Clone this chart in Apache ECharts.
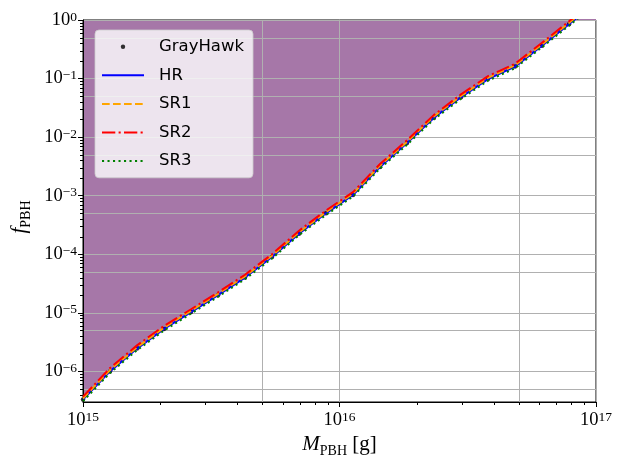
<!DOCTYPE html>
<html>
<head>
<meta charset="utf-8">
<script src="https://cdn.jsdelivr.net/npm/echarts@6/dist/echarts.min.js"></script>
<style>
  html, body { margin: 0; padding: 0; background: #ffffff; }
  #chart { width: 625px; height: 456px; }
</style>
</head>
<body>
<div id="chart"></div>
<script>
// PBH mass grid [g], 20 log-spaced points between 1e15 and 1e17
const masses = [
  1.0000e15, 1.2743e15, 1.6238e15, 2.0691e15, 2.6367e15,
  3.3598e15, 4.2813e15, 5.4556e15, 6.9519e15, 8.8587e15,
  1.1288e16, 1.4384e16, 1.8330e16, 2.3357e16, 2.9764e16,
  3.7927e16, 4.8329e16, 6.1585e16, 7.8476e16, 1.0000e17
];

// Upper limits on f_PBH for each evaporation model
const grayHawk = [
  3.3e-7, 1.0e-6, 2.45e-6, 5.3e-6, 1.03e-5,
  2.0e-5, 4.0e-5, 9.0e-5, 2.25e-4, 5.0e-4,
  1.03e-3, 3.1e-3, 7.9e-3, 2.15e-2, 4.8e-2,
  9.8e-2, 1.6e-1, 3.65e-1, 8.5e-1, 2.0
];
const hr = [
  3.3e-7, 1.0e-6, 2.45e-6, 5.3e-6, 1.03e-5,
  2.0e-5, 4.0e-5, 9.0e-5, 2.25e-4, 5.0e-4,
  1.03e-3, 3.1e-3, 7.9e-3, 2.15e-2, 4.8e-2,
  9.8e-2, 1.6e-1, 3.65e-1, 8.5e-1, 2.0
];
const sr1 = [
  3.45e-7, 1.05e-6, 2.57e-6, 5.56e-6, 1.08e-5,
  2.1e-5, 4.2e-5, 9.45e-5, 2.36e-4, 5.25e-4,
  1.08e-3, 3.26e-3, 8.3e-3, 2.26e-2, 5.04e-2,
  1.03e-1, 1.68e-1, 3.83e-1, 8.9e-1, 2.1
];
const sr2 = [
  3.7e-7, 1.14e-6, 2.78e-6, 5.98e-6, 1.15e-5,
  2.24e-5, 4.47e-5, 1.0e-4, 2.52e-4, 5.6e-4,
  1.15e-3, 3.47e-3, 8.85e-3, 2.4e-2, 5.37e-2,
  1.1e-1, 1.79e-1, 4.08e-1, 9.5e-1, 2.24
];
const sr3 = [
  3.1e-7, 0.94e-6, 2.3e-6, 4.98e-6, 9.7e-6,
  1.88e-5, 3.76e-5, 8.46e-5, 2.12e-4, 4.7e-4,
  9.7e-4, 2.91e-3, 7.43e-3, 2.02e-2, 4.51e-2,
  9.2e-2, 1.5e-1, 3.43e-1, 8.0e-1, 1.88
];

// Axis ranges and guide positions
const X_MIN = 1e15, X_MAX = 1e17;
const Y_MIN = 3e-7, Y_MAX = 1;
const xDecades = [1e15, 1e16];
const yDecades = [1e-7, 1e-6, 1e-5, 1e-4, 1e-3, 1e-2, 1e-1];
const minorMultipliers = [2, 3, 4, 5, 6, 7, 8, 9];
const xExtraGrid = [5e15, 5e16];
const yExtraGrid = [5e-7, 5e-6, 5e-5, 5e-4, 5e-3, 5e-2, 5e-1];

const SERIF = '"Liberation Serif", "DejaVu Serif", serif';
const SANS = '"DejaVu Sans", sans-serif';
const FILL = '#a677a8';
const GRID = '#b0b0b0';

const pairs = (ys) => masses.map((m, i) => [m, ys[i]]);

// guide items: [x, y, kind]; kind 0 = x minor tick, 1 = y minor tick,
// 2 = extra vertical grid line, 3 = extra horizontal grid line
const guides = [];
xDecades.forEach(d => minorMultipliers.forEach(m => guides.push([m * d, Y_MIN, 0])));
yDecades.forEach(d => minorMultipliers.forEach(m => {
  const v = m * d;
  if (v > Y_MIN * 1.0001 && v < Y_MAX) guides.push([X_MIN, v, 1]);
}));
xExtraGrid.forEach(v => guides.push([v, Y_MIN, 2]));
yExtraGrid.forEach(v => guides.push([X_MIN, v, 3]));

// "10^n" labels only at whole decades
const powLabel = (v) => {
  const lg = Math.log10(v);
  const e = Math.round(lg);
  if (Math.abs(lg - e) > 0.01) return '';
  const txt = e < 0 ? '\u2212' + Math.abs(e) : String(e);
  return '{b|10}{e|' + txt + '}';
};
const powRich = {
  b: { fontFamily: SERIF, fontSize: 18.5, lineHeight: 20, color: '#000' },
  e: { fontFamily: SERIF, fontSize: 13.5, lineHeight: 10, verticalAlign: 'top', color: '#000' }
};

const chart = echarts.init(document.getElementById('chart'), null, { renderer: 'canvas' });

const hiddenMarker = { opacity: 0 };

chart.setOption({
  animation: false,
  backgroundColor: '#ffffff',
  grid: {
    left: 83, top: 20, width: 513, height: 382,
    containLabel: false,
    outerBoundsMode: 'none',
    show: true, borderColor: '#000', borderWidth: 1, backgroundColor: 'transparent'
  },
  legend: {
    orient: 'vertical',
    left: 95, top: 30,
    z: 10,
    padding: [6.7, 9, 6.7, 6],
    itemGap: 8.6,
    itemWidth: 42,
    itemHeight: 12,
    backgroundColor: 'rgba(255,255,255,0.8)',
    borderColor: 'rgba(204,204,204,0.8)',
    borderWidth: 1,
    borderRadius: 4,
    textStyle: { fontFamily: SANS, fontSize: 16.5, color: '#000', lineHeight: 20, padding: [0, 0, 0, 10] },
    data: [
      { name: 'GrayHawk', icon: 'path://M0,0 M42,12 M18.8,6 A2.2,2.2 0 1,0 23.2,6 A2.2,2.2 0 1,0 18.8,6 Z' },
      { name: 'HR', itemStyle: hiddenMarker },
      { name: 'SR1', itemStyle: hiddenMarker },
      { name: 'SR2', itemStyle: hiddenMarker },
      { name: 'SR3', itemStyle: hiddenMarker }
    ]
  },
  xAxis: {
    type: 'log', logBase: 10, min: X_MIN, max: X_MAX, z: 2,
    name: '{m|M}{s|PBH}{g| [g]}',
    nameLocation: 'middle', nameGap: 27,
    nameTextStyle: {
      rich: {
        m: { fontFamily: SERIF, fontStyle: 'italic', fontSize: 21, lineHeight: 24, verticalAlign: 'top', color: '#000' },
        s: { fontFamily: SERIF, fontSize: 14, lineHeight: 16, verticalAlign: 'bottom', color: '#000' },
        g: { fontFamily: SERIF, fontSize: 21, lineHeight: 24, verticalAlign: 'top', color: '#000' }
      }
    },
    axisLine: { show: true, lineStyle: { color: '#000', width: 1 } },
    axisTick: { show: true, inside: false, length: 5, lineStyle: { color: '#000', width: 1 } },
    axisLabel: { formatter: powLabel, rich: powRich, margin: 8 },
    splitLine: { show: true, lineStyle: { color: GRID, width: 1 } },
    minorTick: { show: false }
  },
  yAxis: {
    type: 'log', logBase: 10, min: Y_MIN, max: Y_MAX, z: 2,
    name: '{f|f}{s|PBH}',
    nameLocation: 'middle', nameGap: 50, nameRotate: 90,
    nameTextStyle: {
      padding: [0, 12, 0, 0],
      rich: {
        f: { fontFamily: SERIF, fontStyle: 'italic', fontSize: 21, lineHeight: 24, verticalAlign: 'top', color: '#000' },
        s: { fontFamily: SERIF, fontSize: 14, lineHeight: 16, verticalAlign: 'bottom', color: '#000' }
      }
    },
    axisLine: { show: true, lineStyle: { color: '#000', width: 1 } },
    axisTick: { show: true, inside: false, length: 5, lineStyle: { color: '#000', width: 1 } },
    axisLabel: { formatter: powLabel, rich: powRich, margin: 6, showMinLabel: false },
    splitLine: { show: true, lineStyle: { color: GRID, width: 1 } },
    splitNumber: 7
  },
  series: [
    {
      name: 'excluded',
      type: 'line',
      z: 1,
      data: pairs(hr),
      symbol: 'none',
      silent: true,
      lineStyle: { opacity: 0 },
      areaStyle: { color: FILL, opacity: 1, origin: 'end' }
    },
    {
      name: 'guides',
      type: 'custom',
      z: 2,
      silent: true,
      clip: false,
      data: guides,
      encode: { x: 0, y: 1 },
      renderItem: (params, api) => {
        const kind = api.value(2);
        const p = api.coord([api.value(0), api.value(1)]);
        const cs = params.coordSys;
        const px = Math.round(p[0]) + 0.5;
        const py = Math.round(p[1]) + 0.5;
        const bottom = cs.y + cs.height;
        let shape, color = '#000';
        if (kind === 0) {
          shape = { x1: px, y1: bottom, x2: px, y2: bottom + 3 };
        } else if (kind === 1) {
          shape = { x1: cs.x, y1: py, x2: cs.x - 3, y2: py };
        } else if (kind === 2) {
          shape = { x1: px, y1: cs.y, x2: px, y2: bottom };
          color = GRID;
        } else {
          shape = { x1: cs.x, y1: py, x2: cs.x + cs.width, y2: py };
          color = GRID;
        }
        return { type: 'line', shape: shape, style: { stroke: color, lineWidth: 1 } };
      }
    },
    {
      name: 'GrayHawk',
      type: 'scatter',
      z: 3,
      data: pairs(grayHawk),
      symbol: 'circle',
      symbolSize: 4.5,
      itemStyle: { color: '#000' }
    },
    {
      name: 'HR',
      type: 'line',
      z: 4,
      data: pairs(hr),
      symbol: 'none',
      itemStyle: { color: '#0000ff' },
      lineStyle: { color: '#0000ff', width: 2 }
    },
    {
      name: 'SR1',
      type: 'line',
      z: 5,
      data: pairs(sr1),
      symbol: 'none',
      itemStyle: { color: '#ffa500' },
      lineStyle: { color: '#ffa500', width: 2, type: [7.7, 3.3] }
    },
    {
      name: 'SR2',
      type: 'line',
      z: 6,
      data: pairs(sr2),
      symbol: 'none',
      itemStyle: { color: '#ff0000' },
      lineStyle: { color: '#ff0000', width: 2, type: [13.3, 3.3, 2.1, 3.3] }
    },
    {
      name: 'SR3',
      type: 'line',
      z: 7,
      data: pairs(sr3),
      symbol: 'none',
      itemStyle: { color: '#008000' },
      lineStyle: { color: '#008000', width: 2, type: [2.1, 3.4] }
    }
  ]
});
</script>
</body>
</html>
